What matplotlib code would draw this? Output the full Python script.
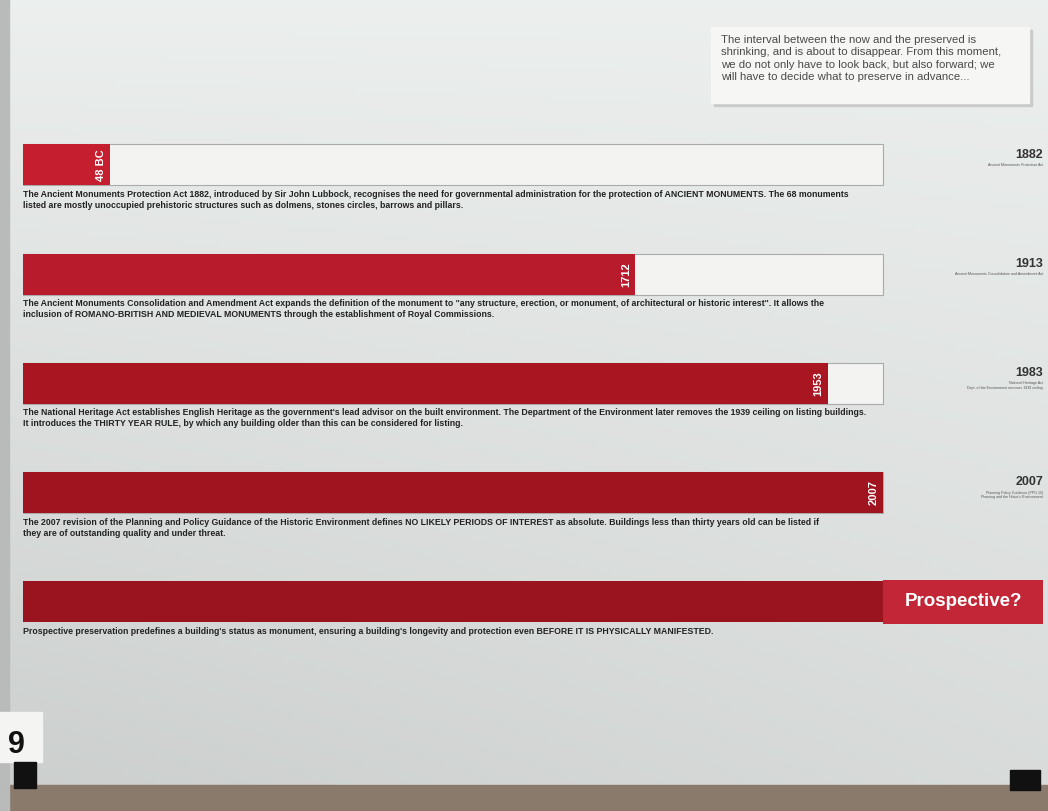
import numpy as np
import matplotlib
matplotlib.use("Agg")
import matplotlib.pyplot as plt
from matplotlib.patches import Rectangle

plt.rcParams['font.family'] = ['Liberation Sans', 'DejaVu Sans']

# timeline data: share of the timeline that is protected for each act
acts = ["1882", "1913", "1983", "2007", "Prospective?"]
protected_share = [0.101, 0.712, 0.936, 1.0, 1.0]
cutoff_labels = ["48 BC", "1712", "1953", "2007", ""]
act_names = [
    "Ancient Monuments Protection Act",
    "Ancient Monuments Consolidation and Amendment Act",
    "National Heritage Act\nDept. of the Environment removes 1939 ceiling",
    "Planning Policy Guidance (PPG 15)\nPlanning and the Historic Environment",
    "",
]
descriptions = [
    "The Ancient Monuments Protection Act 1882, introduced by Sir John Lubbock, recognises the need for governmental administration for the protection of ANCIENT MONUMENTS. The 68 monuments\n"
    "listed are mostly unoccupied prehistoric structures such as dolmens, stones circles, barrows and pillars.",
    "The Ancient Monuments Consolidation and Amendment Act expands the definition of the monument to \"any structure, erection, or monument, of architectural or historic interest\". It allows the\n"
    "inclusion of ROMANO-BRITISH AND MEDIEVAL MONUMENTS through the establishment of Royal Commissions.",
    "The National Heritage Act establishes English Heritage as the government's lead advisor on the built environment. The Department of the Environment later removes the 1939 ceiling on listing buildings.\n"
    "It introduces the THIRTY YEAR RULE, by which any building older than this can be considered for listing.",
    "The 2007 revision of the Planning and Policy Guidance of the Historic Environment defines NO LIKELY PERIODS OF INTEREST as absolute. Buildings less than thirty years old can be listed if\n"
    "they are of outstanding quality and under threat.",
    "Prospective preservation predefines a building's status as monument, ensuring a building's longevity and protection even BEFORE IT IS PHYSICALLY MANIFESTED.",
]
prospective_extra = 0.186
note = ("The interval between the now and the preserved is\n"
        "shrinking, and is about to disappear. From this moment,\n"
        "we do not only have to look back, but also forward; we\n"
        "will have to decide what to preserve in advance...")

bar_colors = ["#c41e2f", "#b81b2c", "#a91622", "#a01420", "#9a1420"]

W, H = 1048, 811
fig = plt.figure(figsize=(W / 100, H / 100), dpi=100)

# photographed poster background
bg = fig.add_axes([0, 0, 1, 1])
yy, xx = np.mgrid[0:1:200j, 0:1:200j]
shade = 0.93 - 0.08 * yy - 0.05 * (1 - xx) * yy
img = np.dstack([shade - 0.005, shade + 0.008, shade + 0.003])
bg.imshow(np.clip(img, 0, 1), extent=[0, W, H, 0], aspect='auto')
bg.add_patch(Rectangle((0, 785), W, 26, color="#8a7a6c"))
bg.add_patch(Rectangle((0, 0), 9, H, color="#b9bbba"))
bg.add_patch(Rectangle((0, 712), 42, 50, color="#f4f4f2"))
bg.text(8, 745, "9", fontsize=22, fontweight='bold', color="#111111", va='center')
bg.add_patch(Rectangle((14, 762), 22, 26, color="#111111"))
bg.add_patch(Rectangle((1010, 770), 30, 20, color="#111111"))
bg.set_xlim(0, W)
bg.set_ylim(H, 0)
bg.axis('off')

# note box
bg.add_patch(Rectangle((714, 30), 318, 76, color="#c9cac9"))
bg.add_patch(Rectangle((711, 27), 318, 76, color="#f6f6f4"))
bg.text(721, 35, note, fontsize=8.2, color="#4a4a4a", va='top', linespacing=1.3)

# bars
ax = fig.add_axes([23 / W, (H - 650) / H, 1020 / W, 540 / H])
ax.set_xlim(0, 1 + prospective_extra)
ax.set_ylim(4.44, -0.503)
ax.axis('off')

ypos = np.arange(len(acts))
h = 0.375
ax.barh(ypos[:4], [1] * 4, height=h, color="#f3f4f2", edgecolor="#a9aaa9", linewidth=0.8)
ax.barh(ypos, protected_share, height=h, color=bar_colors, edgecolor='none')
ax.barh(ypos[4], prospective_extra, left=1, height=h + 0.02, color="#c22637", edgecolor='none')
ax.text(1 + prospective_extra / 2, ypos[4], acts[4], color='white', fontsize=13.5,
        fontweight='bold', ha='center', va='center')

for i in range(4):
    ax.text(protected_share[i] - 0.005, ypos[i], cutoff_labels[i], rotation=90,
            color='white', fontsize=8, fontweight='bold', ha='right', va='center')
    ax.text(1 + prospective_extra, ypos[i] - 0.04, acts[i], fontsize=9, fontweight='bold',
            color="#333333", ha='right', va='bottom')
    ax.text(1 + prospective_extra, ypos[i] - 0.02, act_names[i], fontsize=2.6,
            color="#555555", ha='right', va='top', linespacing=1.3)

for i in range(5):
    ax.text(0, ypos[i] + h / 2 + 0.04, descriptions[i], fontsize=6.3, color="#222222",
            fontweight='semibold', ha='left', va='top', linespacing=1.3)

fig.savefig("out.png", dpi=100)
